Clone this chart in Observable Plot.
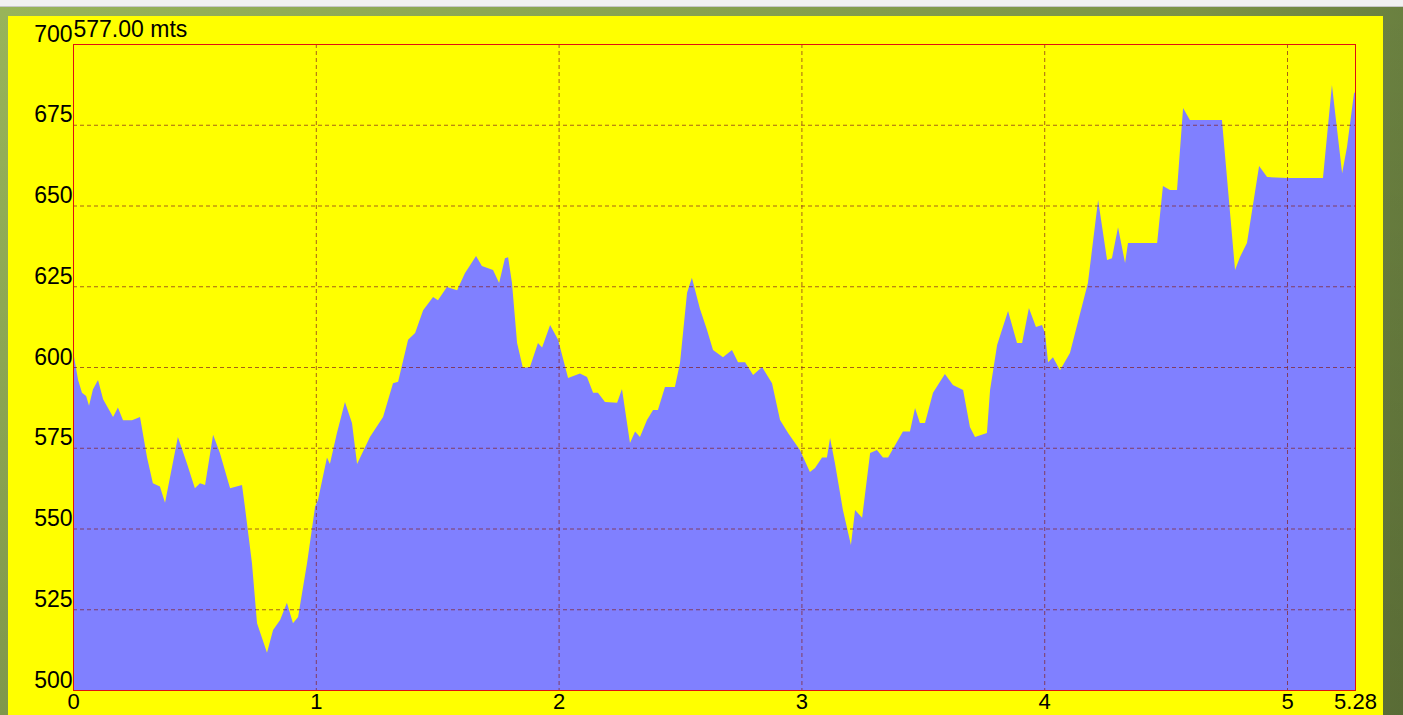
<!DOCTYPE html>
<html>
<head>
<meta charset="utf-8">
<script src="https://cdn.jsdelivr.net/npm/d3@7"></script>
<script src="https://cdn.jsdelivr.net/npm/@observablehq/plot@0.6"></script>
<style>
  html, body { margin: 0; padding: 0; width: 1403px; height: 715px; overflow: hidden; background: #f1f1f1; }
  #outer { position: absolute; left: 0; top: 6px; width: 1403px; height: 709px;
    border-top: 1px solid #c8c8c8; box-sizing: border-box;
    background: linear-gradient(to bottom, rgba(0,0,0,0) 0%, rgba(0,0,0,0.16) 100%),
                linear-gradient(to right, #98b45a 0%, #8aa652 40%, #7c9446 85%, #6a8040 100%); }
  #panel { position: absolute; left: 8px; top: 16px; width: 1375px; height: 699px; background: #ffff00; }
  svg { display: block; }
</style>
</head>
<body>
<div id="outer"></div>
<div id="panel"></div>
<script>
const distKm = [0, 0.021, 0.037, 0.054, 0.066, 0.082, 0.103, 0.124, 0.165, 0.185, 0.206, 0.243, 0.276, 0.305, 0.329, 0.358, 0.379, 0.432, 0.470, 0.502, 0.523, 0.544, 0.577, 0.605, 0.647, 0.696, 0.708, 0.737, 0.758, 0.799, 0.824, 0.853, 0.881, 0.906, 0.927, 0.964, 0.997, 1.009, 1.046, 1.058, 1.087, 1.120, 1.149, 1.170, 1.223, 1.277, 1.318, 1.339, 1.380, 1.409, 1.442, 1.483, 1.503, 1.540, 1.582, 1.614, 1.660, 1.684, 1.730, 1.755, 1.779, 1.792, 1.808, 1.829, 1.853, 1.882, 1.915, 1.932, 1.965, 1.998, 2.039, 2.088, 2.117, 2.142, 2.162, 2.191, 2.241, 2.261, 2.294, 2.315, 2.335, 2.364, 2.389, 2.409, 2.438, 2.479, 2.500, 2.529, 2.549, 2.582, 2.611, 2.636, 2.677, 2.714, 2.739, 2.768, 2.801, 2.838, 2.879, 2.912, 2.945, 2.994, 3.035, 3.056, 3.085, 3.105, 3.118, 3.138, 3.171, 3.204, 3.221, 3.250, 3.283, 3.311, 3.336, 3.357, 3.418, 3.447, 3.468, 3.488, 3.509, 3.542, 3.591, 3.624, 3.666, 3.694, 3.715, 3.764, 3.777, 3.806, 3.851, 3.888, 3.909, 3.937, 3.966, 3.991, 4.003, 4.016, 4.036, 4.065, 4.106, 4.180, 4.222, 4.259, 4.279, 4.304, 4.333, 4.345, 4.465, 4.489, 4.518, 4.547, 4.572, 4.600, 4.732, 4.786, 4.806, 4.835, 4.885, 4.918, 5.000, 5.148, 5.185, 5.227, 5.247, 5.276, 5.28];
const elevM = [605, 596, 592, 591, 588, 593, 596, 590, 584.5, 587.5, 583.5, 583.5, 584.5, 572, 564, 563, 558, 578.3, 570, 562.5, 564, 563.5, 579, 573.4, 562.5, 563.5, 556.7, 539.3, 520.7, 511.5, 518.6, 521.7, 527, 520.7, 522.6, 539.3, 556.7, 558.8, 572, 570, 579.6, 589.2, 582.7, 570, 578.3, 584.5, 595, 595.4, 608.4, 610.5, 617.6, 621.7, 620.7, 624.8, 623.8, 629, 634.4, 631.3, 630, 626, 633.7, 634, 626, 607.4, 599.7, 600, 607.4, 606, 613, 608.4, 596.6, 598, 596.9, 592, 592, 589.2, 588.9, 593.2, 576.5, 580, 578.3, 583.6, 586.7, 586.7, 593.8, 593.8, 601.2, 623, 627.6, 618, 611.5, 605.3, 603, 605.3, 601.5, 601.5, 597.5, 600, 595, 583.6, 579.6, 574.3, 567.5, 568.7, 572, 572, 578, 570.3, 555.7, 544.9, 555.7, 553.3, 573.4, 574.3, 572, 572, 580, 580, 587.3, 582.7, 582.7, 592, 597.8, 594.4, 592.9, 581.4, 578.3, 579.6, 592.9, 606.8, 617.3, 607.4, 607.4, 618.3, 612.4, 613, 610.5, 601.5, 603, 599, 604.3, 626, 651.7, 633.1, 633.7, 643.3, 632.2, 638.4, 638.4, 656, 654.8, 654.8, 680.2, 676.5, 676.5, 630, 634, 638.4, 662.2, 658.8, 658.5, 658.5, 687.3, 660, 668.1, 684.8, 685];

const yTicks = [500, 525, 550, 575, 600, 625, 650, 675, 700];
const yGrid = [525, 550, 575, 600, 625, 650, 675];
const xTicks = [0, 1, 2, 3, 4, 5, 5.28];
const xTickLabels = ["0", "1", "2", "3", "4", "5", "5.28"];
const xGrid = [1, 2, 3, 4, 5];
const headerLabel = "577.00 mts";

const profile = distKm.map((d, i) => ({d, e: elevM[i]}));

const gridStroke = "#802020";
const chart = Plot.plot({
  width: 1375,
  height: 699,
  marginLeft: 65,
  marginTop: 28,
  marginRight: 28,
  marginBottom: 25,
  style: {background: "transparent", fontFamily: "'Liberation Sans', Arial, sans-serif", color: "black"},
  x: {domain: [0, 5.28], axis: null},
  y: {domain: [500, 700], axis: null},
  marks: [
    Plot.areaY(profile, {x: "d", y1: 500, y2: "e", fill: "#8080ff"}),
    Plot.ruleY(yGrid, {stroke: gridStroke, strokeOpacity: 0.7, strokeDasharray: "4,3", strokeWidth: 1}),
    Plot.ruleX(xGrid, {stroke: gridStroke, strokeOpacity: 0.7, strokeDasharray: "4,3", strokeWidth: 1}),
    Plot.frame({stroke: "#e01010", strokeWidth: 1}),
    Plot.text(yTicks, {y: d => d, text: d => String(d), frameAnchor: "left", textAnchor: "end", lineAnchor: "bottom", dx: -1, dy: -3, fontSize: 23, fill: "black"}),
    Plot.text(xTicks, {x: d => d, text: (d, i) => xTickLabels[i], frameAnchor: "bottom", textAnchor: "middle", lineAnchor: "top", dy: 3, fontSize: 22, fill: "black"}),
    Plot.text([headerLabel], {text: d => d, frameAnchor: "top-left", textAnchor: "start", lineAnchor: "bottom", dx: 0, dy: -8, fontSize: 23, fill: "black"})
  ]
});
document.getElementById("panel").appendChild(chart);
</script>
</body>
</html>
